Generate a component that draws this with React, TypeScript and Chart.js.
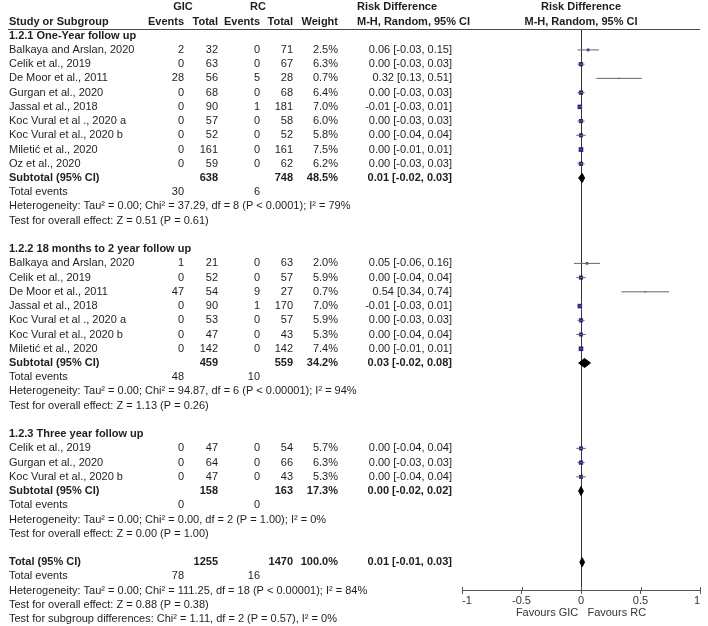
import React, { useEffect, useRef } from "react";
import { Chart, registerables } from "chart.js";

Chart.register(...registerables);

// ---------- Data ----------
const subgroupTitles = [
  "1.2.1 One-Year follow up",
  "1.2.2 18 months to 2 year follow up",
  "1.2.3 Three year follow up",
];

const g1Studies = [
  "Balkaya and Arslan, 2020",
  "Celik et al., 2019",
  "De Moor et al., 2011",
  "Gurgan et al., 2020",
  "Jassal et al., 2018",
  "Koc Vural et al ., 2020 a",
  "Koc Vural et al., 2020 b",
  "Miletić et al., 2020",
  "Oz et al., 2020",
];
const g1GicEvents = [2, 0, 28, 0, 0, 0, 0, 0, 0];
const g1GicTotal = [32, 63, 56, 68, 90, 57, 52, 161, 59];
const g1RcEvents = [0, 0, 5, 0, 1, 0, 0, 0, 0];
const g1RcTotal = [71, 67, 28, 68, 181, 58, 52, 161, 62];
const g1Weight = [2.5, 6.3, 0.7, 6.4, 7.0, 6.0, 5.8, 7.5, 6.2];
const g1Rd = [0.06, 0.0, 0.32, 0.0, -0.01, 0.0, 0.0, 0.0, 0.0];
const g1Lo = [-0.03, -0.03, 0.13, -0.03, -0.03, -0.03, -0.04, -0.01, -0.03];
const g1Hi = [0.15, 0.03, 0.51, 0.03, 0.01, 0.03, 0.04, 0.01, 0.03];

const g2Studies = [
  "Balkaya and Arslan, 2020",
  "Celik et al., 2019",
  "De Moor et al., 2011",
  "Jassal et al., 2018",
  "Koc Vural et al ., 2020 a",
  "Koc Vural et al., 2020 b",
  "Miletić et al., 2020",
];
const g2GicEvents = [1, 0, 47, 0, 0, 0, 0];
const g2GicTotal = [21, 52, 54, 90, 53, 47, 142];
const g2RcEvents = [0, 0, 9, 1, 0, 0, 0];
const g2RcTotal = [63, 57, 27, 170, 57, 43, 142];
const g2Weight = [2.0, 5.9, 0.7, 7.0, 5.9, 5.3, 7.4];
const g2Rd = [0.05, 0.0, 0.54, -0.01, 0.0, 0.0, 0.0];
const g2Lo = [-0.06, -0.04, 0.34, -0.03, -0.03, -0.04, -0.01];
const g2Hi = [0.16, 0.04, 0.74, 0.01, 0.03, 0.04, 0.01];

const g3Studies = ["Celik et al., 2019", "Gurgan et al., 2020", "Koc Vural et al., 2020 b"];
const g3GicEvents = [0, 0, 0];
const g3GicTotal = [47, 64, 47];
const g3RcEvents = [0, 0, 0];
const g3RcTotal = [54, 66, 43];
const g3Weight = [5.7, 6.3, 5.3];
const g3Rd = [0.0, 0.0, 0.0];
const g3Lo = [-0.04, -0.03, -0.04];
const g3Hi = [0.04, 0.03, 0.04];

const subtotalGicTotal = [638, 459, 158];
const subtotalRcTotal = [748, 559, 163];
const subtotalWeight = [48.5, 34.2, 17.3];
const subtotalRd = [0.01, 0.03, 0.0];
const subtotalLo = [-0.02, -0.02, -0.02];
const subtotalHi = [0.03, 0.08, 0.02];
const subtotalGicEvents = [30, 48, 0];
const subtotalRcEvents = [6, 10, 0];
const subtotalHeterogeneity = [
  "Heterogeneity: Tau² = 0.00; Chi² = 37.29, df = 8 (P < 0.0001); I² = 79%",
  "Heterogeneity: Tau² = 0.00; Chi² = 94.87, df = 6 (P < 0.00001); I² = 94%",
  "Heterogeneity: Tau² = 0.00; Chi² = 0.00, df = 2 (P = 1.00); I² = 0%",
];
const subtotalOverallTest = [
  "Test for overall effect: Z = 0.51 (P = 0.61)",
  "Test for overall effect: Z = 1.13 (P = 0.26)",
  "Test for overall effect: Z = 0.00 (P = 1.00)",
];

const overallTotals = [1255, 1470]; // GIC total, RC total
const overallEvents = [78, 16]; // GIC events, RC events
const overallWeight = [100.0];
const overallEffect = [0.01, -0.01, 0.03]; // estimate, lower, upper
const overallNotes = [
  "Heterogeneity: Tau² = 0.00; Chi² = 111.25, df = 18 (P < 0.00001); I² = 84%",
  "Test for overall effect: Z = 0.88 (P = 0.38)",
  "Test for subgroup differences: Chi² = 1.11, df = 2 (P = 0.57), I² = 0%",
];

const xTickValues = [-1, -0.5, 0, 0.5, 1];
const axisTitle = "Favours GIC   Favours RC";

// ---------- Build tables ----------
const groups = [
  { studies: g1Studies, ge: g1GicEvents, gt: g1GicTotal, re: g1RcEvents, rt: g1RcTotal, w: g1Weight, rd: g1Rd, lo: g1Lo, hi: g1Hi },
  { studies: g2Studies, ge: g2GicEvents, gt: g2GicTotal, re: g2RcEvents, rt: g2RcTotal, w: g2Weight, rd: g2Rd, lo: g2Lo, hi: g2Hi },
  { studies: g3Studies, ge: g3GicEvents, gt: g3GicTotal, re: g3RcEvents, rt: g3RcTotal, w: g3Weight, rd: g3Rd, lo: g3Lo, hi: g3Hi },
];

const COL = {
  name: 9,
  gicEvents: 184,
  gicTotal: 218,
  rcEvents: 260,
  rcTotal: 293,
  weight: 338,
  rd: 452,
  rdHeader: 357,
  gicHeader: 183,
  rcHeader: 258,
};

type TextItem = { text: string; x: number | "plot"; row: number; align: CanvasTextAlign; bold: boolean };

const fmtRd = (v: number, l: number, h: number) => `${v.toFixed(2)} [${l.toFixed(2)}, ${h.toFixed(2)}]`;

const texts: TextItem[] = [];
const ciSegments: { x: number | null; y: number | null }[] = [];
const squares: { x: number; y: number }[] = [];
const squareRadii: number[] = [];
const diamonds: { est: number; lo: number; hi: number; row: number }[] = [];

const T = (text: string, x: number | "plot", row: number, align: CanvasTextAlign = "right", bold = false) =>
  texts.push({ text, x, row, align, bold });

// headers
T("GIC", COL.gicHeader, -2, "center", true);
T("RC", COL.rcHeader, -2, "center", true);
T("Risk Difference", COL.rdHeader, -2, "left", true);
T("Risk Difference", "plot", -2, "center", true);
T("Study or Subgroup", COL.name, -1, "left", true);
T("Events", COL.gicEvents, -1, "right", true);
T("Total", COL.gicTotal, -1, "right", true);
T("Events", COL.rcEvents, -1, "right", true);
T("Total", COL.rcTotal, -1, "right", true);
T("Weight", COL.weight, -1, "right", true);
T("M-H, Random, 95% CI", COL.rdHeader, -1, "left", true);
T("M-H, Random, 95% CI", "plot", -1, "center", true);

let r = 0;
groups.forEach((g, gi) => {
  T(subgroupTitles[gi], COL.name, r, "left", true);
  r++;
  g.studies.forEach((s, si) => {
    T(s, COL.name, r, "left");
    T(String(g.ge[si]), COL.gicEvents, r);
    T(String(g.gt[si]), COL.gicTotal, r);
    T(String(g.re[si]), COL.rcEvents, r);
    T(String(g.rt[si]), COL.rcTotal, r);
    T(`${g.w[si].toFixed(1)}%`, COL.weight, r);
    T(fmtRd(g.rd[si], g.lo[si], g.hi[si]), COL.rd, r);
    ciSegments.push({ x: g.lo[si], y: r }, { x: g.hi[si], y: r }, { x: null, y: null });
    squares.push({ x: g.rd[si], y: r });
    squareRadii.push((1.7 * Math.sqrt(g.w[si])) / 1.414);
    r++;
  });
  T("Subtotal (95% CI)", COL.name, r, "left", true);
  T(String(subtotalGicTotal[gi]), COL.gicTotal, r, "right", true);
  T(String(subtotalRcTotal[gi]), COL.rcTotal, r, "right", true);
  T(`${subtotalWeight[gi].toFixed(1)}%`, COL.weight, r, "right", true);
  T(fmtRd(subtotalRd[gi], subtotalLo[gi], subtotalHi[gi]), COL.rd, r, "right", true);
  diamonds.push({ est: subtotalRd[gi], lo: subtotalLo[gi], hi: subtotalHi[gi], row: r });
  r++;
  T("Total events", COL.name, r, "left");
  T(String(subtotalGicEvents[gi]), COL.gicEvents, r);
  T(String(subtotalRcEvents[gi]), COL.rcEvents, r);
  r++;
  T(subtotalHeterogeneity[gi], COL.name, r, "left");
  r++;
  T(subtotalOverallTest[gi], COL.name, r, "left");
  r++;
  r++; // blank
});
T("Total (95% CI)", COL.name, r, "left", true);
T(String(overallTotals[0]), COL.gicTotal, r, "right", true);
T(String(overallTotals[1]), COL.rcTotal, r, "right", true);
T(`${overallWeight[0].toFixed(1)}%`, COL.weight, r, "right", true);
T(fmtRd(overallEffect[0], overallEffect[1], overallEffect[2]), COL.rd, r, "right", true);
diamonds.push({ est: overallEffect[0], lo: overallEffect[1], hi: overallEffect[2], row: r });
r++;
T("Total events", COL.name, r, "left");
T(String(overallEvents[0]), COL.gicEvents, r);
T(String(overallEvents[1]), COL.rcEvents, r);
r++;
overallNotes.forEach((n) => {
  T(n, COL.name, r, "left");
  r++;
});

const FONT_FAMILY = '"Liberation Sans", Arial, Helvetica, sans-serif';
const TEXT_COLOR = "#1e1e1e";
const DIAMOND_HALF = 0.32;

const tablePlugin = {
  id: "forestTable",
  afterDraw(chart: any) {
    const ctx: CanvasRenderingContext2D = chart.ctx;
    const xs = chart.scales.x;
    const ys = chart.scales.y;
    const area = chart.chartArea;
    ctx.save();
    ctx.strokeStyle = "#4a4a4a";
    ctx.lineWidth = 1;
    ctx.beginPath();
    ctx.moveTo(8, Math.round(area.top) + 0.5);
    ctx.lineTo(area.right, Math.round(area.top) + 0.5);
    ctx.stroke();
    // tick marks crossing the axis line
    ctx.strokeStyle = "#555";
    xs.ticks.forEach((t: any) => {
      const px = Math.round(xs.getPixelForValue(t.value)) + 0.5;
      ctx.beginPath();
      ctx.moveTo(px, area.bottom - 3);
      ctx.lineTo(px, area.bottom);
      ctx.stroke();
    });
    ctx.fillStyle = TEXT_COLOR;
    ctx.textBaseline = "middle";
    const plotCenter = xs.getPixelForValue(0);
    texts.forEach((t) => {
      ctx.font = `${t.bold ? "bold " : ""}11px ${FONT_FAMILY}`;
      ctx.textAlign = t.align;
      const px = t.x === "plot" ? plotCenter : t.x;
      ctx.fillText(t.text, px, ys.getPixelForValue(t.row));
    });
    ctx.restore();
  },
};

export default function App() {
  const canvasRef = useRef<HTMLCanvasElement | null>(null);

  useEffect(() => {
    if (!canvasRef.current) return;
    const datasets: any[] = [
      {
        label: "CI",
        data: ciSegments,
        borderColor: "#666",
        borderWidth: 1,
        pointRadius: 0,
        spanGaps: false,
        fill: false,
        tension: 0,
      },
      {
        label: "Estimate",
        data: squares,
        showLine: false,
        pointStyle: "rect",
        pointRadius: squareRadii,
        pointBackgroundColor: "#23238a",
        pointBorderWidth: 0,
        pointBorderColor: "#23238a",
      },
      ...diamonds.map((d) => ({
        label: "Pooled",
        data: [
          { x: d.lo, y: d.row },
          { x: d.est, y: d.row - DIAMOND_HALF },
          { x: d.hi, y: d.row },
          { x: d.est, y: d.row + DIAMOND_HALF },
          { x: d.lo, y: d.row },
        ],
        borderColor: "#000",
        backgroundColor: "#000",
        borderWidth: 1,
        pointRadius: 0,
        fill: "shape",
        tension: 0,
      })),
    ];

    const chart = new Chart(canvasRef.current, {
      type: "line",
      data: { datasets },
      plugins: [tablePlugin],
      options: {
        animation: false,
        responsive: false,
        devicePixelRatio: 1,
        layout: { padding: { left: 462, right: 8, top: 29, bottom: 0 } },
        plugins: { legend: { display: false }, tooltip: { enabled: false } },
        scales: {
          x: {
            type: "linear",
            min: -1,
            max: 1,
            afterFit: (s: any) => {
              s.height = 36;
            },
            afterBuildTicks: (s: any) => {
              s.ticks = xTickValues.map((v) => ({ value: v }));
            },
            ticks: {
              color: "#333",
              font: { family: FONT_FAMILY, size: 11 },
              padding: 0,
              align: "inner",
              maxRotation: 0,
              autoSkip: false,
              callback: (v: any) => String(v),
            },
            grid: {
              drawOnChartArea: true,
              color: (c: any) => (c.tick && c.tick.value === 0 ? "#333" : "rgba(0,0,0,0)"),
              tickColor: "#555",
              tickLength: 4,
              lineWidth: 1,
            },
            border: { display: true, color: "#555", width: 1 },
            title: {
              display: true,
              text: axisTitle,
              color: "#333",
              font: { family: FONT_FAMILY, size: 11 },
              padding: { top: 0, bottom: 6 },
            },
          },
          y: {
            type: "linear",
            display: false,
            min: -0.471,
            max: 38.953,
            reverse: true,
          },
        },
      } as any,
    });
    return () => chart.destroy();
  }, []);

  return (
    <div style={{ position: "fixed", left: 0, top: 0, width: 708, height: 626, background: "#fff" }}>
      <canvas ref={canvasRef} width={708} height={626} style={{ display: "block" }} />
    </div>
  );
}
